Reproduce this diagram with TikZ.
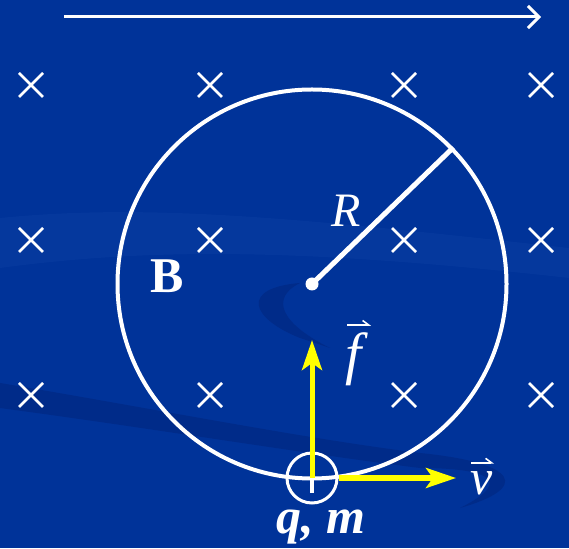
\documentclass[tikz,border=0pt]{standalone}
\usepackage{fontspec}
\setmainfont{Liberation Serif}
\newfontfamily\tms{Liberation Serif}
\usetikzlibrary{arrows.meta}
\definecolor{bgblue}{RGB}{0,51,153}
\definecolor{swirldark}{RGB}{0,43,137}
\definecolor{swirllight}{RGB}{5,56,157}
\definecolor{fyellow}{RGB}{255,255,0}
\begin{document}
\begin{tikzpicture}[x=1pt,y=1pt,
  crossmark/.style={white, line width=2.6pt},
  lbl/.style={text=white, inner sep=0pt, anchor=base},
  yarrow/.style={fyellow, line width=5pt, -{Stealth[length=30pt,width=20pt,inset=7pt]}},
  vecarr/.style={white, line width=1.8pt, -{Straight Barb[left,length=6pt,width=9pt,line width=1.6pt]}},
  topline/.style={white, line width=3pt, -{Straight Barb[length=11pt,width=22pt,line width=3pt]}}]
% background
\fill[bgblue] (0,0) rectangle (569,548);
\useasboundingbox (0,0) rectangle (569,548);
% faint swirls
\fill[swirllight] (0,330) .. controls (150,345) and (300,330) .. (569,300)
  -- (569,270) .. controls (300,300) and (150,300) .. (0,280) -- cycle;
\fill[swirldark] (300,210) .. controls (250,230) and (240,260) .. (300,265)
  .. controls (270,250) and (280,225) .. (330,200) -- cycle;
\fill[swirldark] (0,165) .. controls (150,140) and (300,110) .. (420,95)
  .. controls (520,85) and (530,60) .. (460,40)
  .. controls (520,70) and (480,80) .. (420,80)
  .. controls (300,95) and (150,120) .. (0,140) -- cycle;
% top arrow
\coordinate (topstart) at (64,531);
\coordinate (topend) at (541,531);
\draw[topline] (topstart) -- (topend);
% crosses
\foreach \x in {31,210,404,541}{
  \foreach \y in {463,308,153}{
    \draw[crossmark] (\x-12,\y-12) -- (\x+12,\y+12) (\x-12,\y+12) -- (\x+12,\y-12);
  }
}
% big circle
\coordinate (O) at (312,264);
\node[draw=white, line width=4pt, circle, minimum size=389pt, inner sep=0pt] (big) at (O) {};
\draw[white, line width=5pt] (O) -- (big.44.2);
\fill[white] (O) circle (6.5);
% particle
\node[draw=white, line width=3pt, circle, minimum size=50pt, inner sep=0pt] (P) at (312,70) {};
\coordinate (tick) at (312,55);
\draw[white, line width=4pt] (P.center) -- (tick);
\coordinate (ftip) at (312,208);
\coordinate (vtip) at (456,70);
\draw[yarrow] (P.center) -- (ftip);
\draw[yarrow] (P.east) -- (vtip);
% labels
\node[lbl, font=\tms\fontsize{50}{54}\selectfont\bfseries] (B) at (167,255) {B};
\node[lbl, font=\tms\fontsize{48}{52}\selectfont\itshape] (R) at (346,321) {R};
\node[lbl, font=\tms\fontsize{58}{60}\selectfont\itshape] (f) at (354,174) {f};
\draw[vecarr] ([xshift=-7pt,yshift=8pt]f.north) -- ([xshift=17pt,yshift=8pt]f.north);
\node[lbl, font=\tms\fontsize{50}{54}\selectfont\itshape] (v) at (482,54) {v};
\draw[vecarr] ([xshift=-11pt,yshift=8pt]v.north) -- ([xshift=12pt,yshift=8pt]v.north);
\node[lbl, font=\tms\fontsize{50}{54}\selectfont\bfseries\itshape] (qm) at (321,15) {q, m};
\end{tikzpicture}
\end{document}
